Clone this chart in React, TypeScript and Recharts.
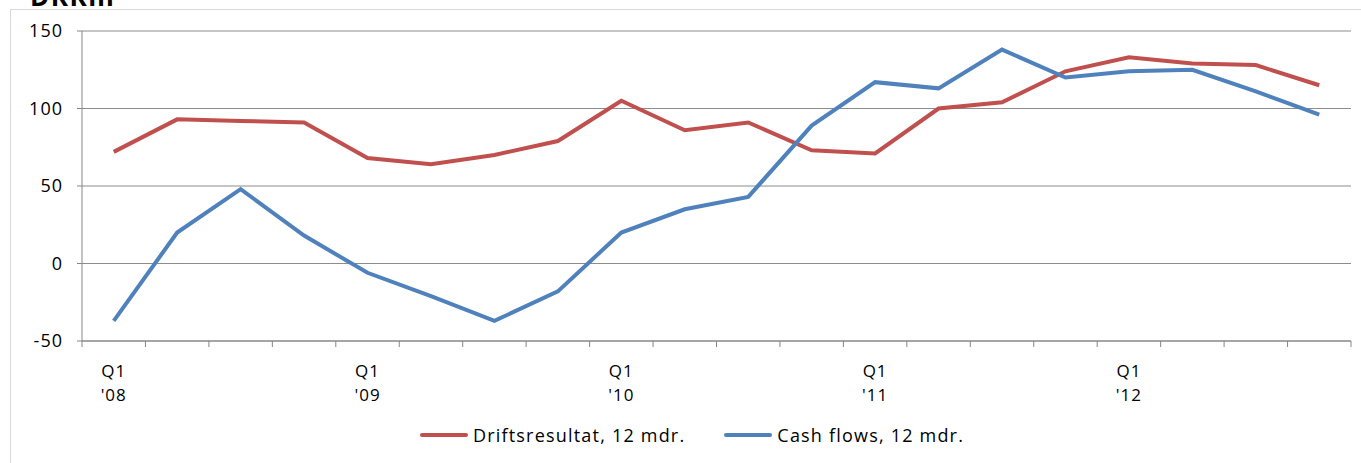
import React from 'react';
import { LineChart, Line, XAxis, YAxis, CartesianGrid, Legend } from 'recharts';

const quarters = [
  "Q1 '08", "Q2 '08", "Q3 '08", "Q4 '08",
  "Q1 '09", "Q2 '09", "Q3 '09", "Q4 '09",
  "Q1 '10", "Q2 '10", "Q3 '10", "Q4 '10",
  "Q1 '11", "Q2 '11", "Q3 '11", "Q4 '11",
  "Q1 '12", "Q2 '12", "Q3 '12", "Q4 '12",
];

const driftsresultat = [72, 93, 92, 91, 68, 64, 70, 79, 105, 86, 91, 73, 71, 100, 104, 124, 133, 129, 128, 115];
const cashFlows = [-37, 20, 48, 18, -6, -21, -37, -18, 20, 35, 43, 89, 117, 113, 138, 120, 124, 125, 111, 96];

const yTicks = [-50, 0, 50, 100, 150];

const RED = '#C0504D';
const BLUE = '#4F81BD';
const FONT = '"Open Sans", sans-serif';

const data = quarters.map((q, i) => ({
  x: i + 0.5,
  label: q,
  drift: driftsresultat[i],
  cash: cashFlows[i],
}));

const xTicks = quarters.map((_, i) => i).concat([quarters.length]);

const W = 1361;
const H = 463;
const LEFT = 82;
const RIGHT = 10;
const STEP = (W - LEFT - RIGHT) / quarters.length;

const QuarterTick = (props: any) => {
  const { x, y, payload } = props;
  const i = payload.value;
  if (i >= quarters.length || i % 4 !== 0) return null;
  const [q, yr] = quarters[i].split(' ');
  return (
    <text x={x + STEP / 2} y={y} textAnchor="middle" fill="#000" fontSize={17} fontFamily={FONT} letterSpacing={1}>
      <tspan x={x + STEP / 2} dy={28}>{q}</tspan>
      <tspan x={x + STEP / 2} dy={24}>{yr}</tspan>
    </text>
  );
};

const LegendContent = () => (
  <div style={{ display: 'flex', justifyContent: 'center', alignItems: 'center', fontFamily: FONT, fontSize: 18, letterSpacing: 1.2, paddingTop: 22, paddingLeft: 33 }}>
    {[
      { name: 'Driftsresultat, 12 mdr.', color: RED },
      { name: 'Cash flows, 12 mdr.', color: BLUE },
    ].map((s, idx) => (
      <div key={s.name} style={{ display: 'flex', alignItems: 'center', marginLeft: idx ? 39 : 0 }}>
        <div style={{ width: 48, height: 4, borderRadius: 2, background: s.color, marginRight: 5 }} />
        <span>{s.name}</span>
      </div>
    ))}
  </div>
);

export default function App() {
  return (
    <div style={{ position: 'absolute', left: 0, top: 0, width: W, height: H, overflow: 'hidden', background: '#fff' }}>
      <div style={{ position: 'absolute', left: 30, top: -22, fontFamily: FONT, fontWeight: 'bold', fontSize: 26, letterSpacing: 1.5 }}>DKKm</div>
      <div style={{ position: 'absolute', left: 10, top: 9, width: W, height: H, borderLeft: '1px solid #d9d9d9', borderTop: '1px solid #d9d9d9' }} />
      <LineChart width={W} height={H} data={data} margin={{ top: 31, right: RIGHT, left: 0, bottom: 0 }}>
        <CartesianGrid vertical={false} stroke="#8c8c8c" strokeWidth={1} />
        <XAxis
          dataKey="x"
          type="number"
          domain={[0, quarters.length]}
          ticks={xTicks}
          interval={0}
          height={60}
          stroke="#868686"
          tickSize={6}
          tick={<QuarterTick />}
        />
        <YAxis
          domain={[-50, 150]}
          ticks={yTicks}
          width={LEFT}
          stroke="#868686"
          tickSize={5}
          tickMargin={14}
          tick={{ fill: '#000', fontSize: 18, fontFamily: FONT, letterSpacing: 1 }}
        />
        <Legend verticalAlign="bottom" height={62} content={<LegendContent />} />
        <Line type="linear" dataKey="drift" stroke={RED} strokeWidth={4} dot={false} isAnimationActive={false} />
        <Line type="linear" dataKey="cash" stroke={BLUE} strokeWidth={4} dot={false} isAnimationActive={false} />
      </LineChart>
    </div>
  );
}
